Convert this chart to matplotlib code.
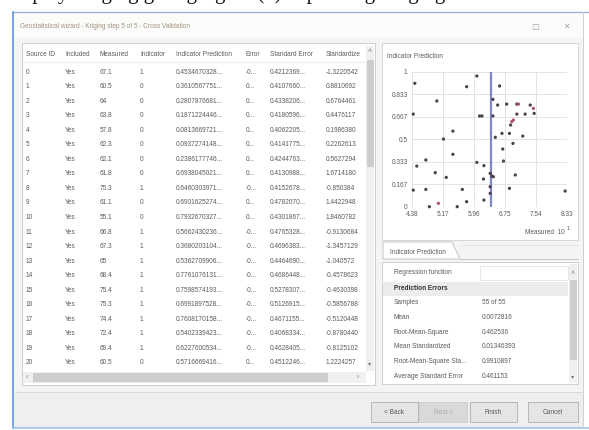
import matplotlib.pyplot as plt
from matplotlib.patches import Rectangle, Polygon

W, H = 589, 430

# TABLE DATA (visible rows of the cross validation grid)

columns = ["Source ID", "Included", "Measured", "Indicator", "Indicator Prediction",
           "Error", "Standard Error", "Standardize"]
source_id = [str(i) for i in range(21)]
included = ["Yes"] * 21
measured = ["67.1", "60.5", "64", "63.8", "57.8", "62.3", "62.1", "61.8", "75.3", "61.1", "55.1",
            "66.8", "67.3", "65", "68.4", "75.4", "75.3", "74.4", "72.4", "69.4", "60.5"]
indicator = ["1", "0", "0", "0", "0", "0", "0", "0", "1", "0", "0",
             "1", "1", "1", "1", "1", "1", "1", "1", "1", "0"]
ind_pred = ["0.4534670328...", "0.3610567751...", "0.2807876681...", "0.1871224446...",
            "0.0813669721...", "0.0937274148...", "0.2386177746...", "0.6938045021...",
            "0.6460303971...", "0.6901625274...", "0.7932670327...", "0.5662430236...",
            "0.3680203104...", "0.5362709906...", "0.7761076131...", "0.7598574193...",
            "0.6991897528...", "0.7608170158...", "0.5402339423...", "0.6227600534...",
            "0.5716669416..."]
error = ["-0...", "0...", "0...", "0...", "0...", "0...", "0...", "0...", "-0...", "0...", "0...",
         "-0...", "-0...", "-0...", "-0...", "-0...", "-0...", "-0...", "-0...", "-0...", "0..."]
std_error = ["0.4212369...", "0.4107660...", "0.4338206...", "0.4180596...", "0.4062205...",
             "0.4141775...", "0.4244763...", "0.4130988...", "0.4152678...", "0.4782070...",
             "0.4301867...", "0.4765328...", "0.4696383...", "0.4464690...", "0.4686448...",
             "0.5278307...", "0.5126915...", "0.4671155...", "0.4068334...", "0.4628405...",
             "0.4512246..."]
standardized = ["-1.3220542", "0.8810692", "0.6764461", "0.4476117", "0.1986380", "0.2262613",
                "0.5627294", "1.6714180", "-0.850384", "1.4422948", "1.8460782", "-0.9130684",
                "-1.3457129", "-1.040572", "-0.4578623", "-0.4630398", "-0.5856788", "-0.5120448",
                "-0.8780440", "-0.8125102", "1.2224257"]

# SCATTER DATA (measured in units of 10^1, indicator prediction)

meas_x = [4.46, 6.04, 5.78, 6.62, 5.02, 4.42, 6.11, 6.17, 6.45, 6.45, 6.57, 6.80, 7.06, 7.10,
          7.40, 7.48, 7.50, 7.27, 7.06, 6.93, 6.97, 6.90, 6.68, 6.87, 7.21, 6.51, 6.96, 6.70,
          6.72, 7.02, 6.87, 8.29, 6.38, 6.38, 6.22, 5.78, 5.54, 5.67, 6.21, 6.38, 6.42, 6.46,
          6.22, 6.04, 5.43, 5.43, 5.19, 4.74, 4.51, 4.98, 5.26, 4.42, 4.74, 5.06, 4.83]
pred_y = [0.914, 0.968, 0.889, 0.894, 0.783, 0.686, 0.672, 0.672, 0.672, 0.795, 0.753, 0.760,
          0.760, 0.760, 0.753, 0.728, 0.691, 0.686, 0.686, 0.630, 0.642, 0.605, 0.543, 0.543,
          0.523, 0.514, 0.469, 0.427, 0.338, 0.235, 0.136, 0.116, 0.148, 0.099, 0.049, 0.037,
          0.0, 0.128, 0.205, 0.247, 0.227, 0.222, 0.304, 0.328, 0.388, 0.560, 0.501, 0.346,
          0.301, 0.252, 0.217, 0.123, 0.128, 0.025, 0.0]
threshold = 6.4
x_ticks = [4.38, 5.17, 5.96, 6.75, 7.54, 8.33]
y_ticks = [0, 1 / 6, 2 / 6, 3 / 6, 4 / 6, 5 / 6, 1]
y_tick_labels = ["0", "0.167", "0.333", "0.5", "0.667", "0.833", "1"]

# SUMMARY STATISTICS

stat_labels = ["Samples", "Mean", "Root-Mean-Square", "Mean Standardized",
               "Root-Mean-Square Sta...", "Average Standard Error"]
stat_values = ["55 of 55", "0.0072816", "0.462536", "0.01346393", "0.9910897", "0.461153"]

buttons = ["< Back", "Next >", "Finish", "Cancel"]

FONT = ["Liberation Sans", "DejaVu Sans"]
FS = 4.7
TXT = "#5a5a5a"
PX = 0.72  # one pixel in points


def rect(x0, y0, x1, y1, fc="none", ec="none", lw=1.0, z=1):
    ax.add_patch(Rectangle((x0, y0), x1 - x0, y1 - y0, facecolor=fc, edgecolor=ec,
                           linewidth=lw * PX, zorder=z))


def label(x, y, s, ha="left", color=TXT, size=FS, weight="normal", z=5):
    ax.text(x, y, s, ha=ha, va="center", color=color, fontsize=size, family=FONT,
            fontweight=weight, zorder=z)


fig = plt.figure(figsize=(W / 100, H / 100), dpi=100)
ax = fig.add_axes([0, 0, 1, 1])
ax.set_xlim(0, W)
ax.set_ylim(H, 0)
ax.axis("off")

# page text cut at the top
ax.text(8, -1.5, "display Kriging giving figure (b) explaining Kriging", ha="left",
        va="baseline", fontsize=15, family="Liberation Serif", color="#111111")

# WINDOW FRAME

rect(13, 12, 583, 428, fc="#f4f4f4", ec="none", z=0)
rect(13, 12, 583, 38, fc="#fbfbfa", z=0.5)
ax.plot([13, 589], [12, 12], color="#8fb0dc", lw=1.2 * PX, zorder=2)
ax.plot([13, 13], [12, 428], color="#5b8fd6", lw=1.6 * PX, zorder=2)
ax.plot([13, 589], [428, 428], color="#9cc0ea", lw=1.6 * PX, zorder=2)
ax.plot([583, 583], [12, 428], color="#d0d0d0", lw=1.0 * PX, zorder=2)
label(20, 27, "Geostatistical wizard - Kriging step 5 of 5 - Cross Validation", color="#a09480")
label(535, 27, "\u25a2", ha="center", color="#a0a0a0", size=6)
label(566, 27, "\u2715", ha="center", color="#a0a0a0", size=5.5)

# TABLE

rect(22, 43, 375, 385, fc="white", ec="#cfcfcf", z=1)
col_x = [26, 65, 100, 140, 176, 246, 270, 326]
for cx, name in zip(col_x, columns):
    label(cx, 54, name)
ax.plot([23, 366], [62, 62], color="#ececec", lw=PX, zorder=2)
rows = [source_id, included, measured, indicator, ind_pred, error, std_error, standardized]
for i in range(len(source_id)):
    y = 72 + i * 14.55
    for cx, col in zip(col_x, rows):
        label(cx, y, col[i])

# vertical scrollbar
rect(366, 46, 374, 371, fc="#f0f0f0", z=2)
rect(366.5, 60, 373.5, 167, fc="#cdcdcd", z=3)
label(370, 52, "\u02c4", ha="center", color="#777777", size=5)
label(370, 364, "\u25be", ha="center", color="#777777", size=4.5)

# horizontal scrollbar
rect(23, 372, 366, 383, fc="#f0f0f0", z=2)
rect(33, 373, 328, 382, fc="#cdcdcd", z=3)
label(27, 377, "\u2039", ha="center", color="#777777", size=5)
label(358, 377, "\u203a", ha="center", color="#777777", size=5)

# CHART PANEL

rect(382, 43, 578, 240, fc="white", ec="#d6d6d6", z=1)
label(387, 56, "Indicator Prediction")

left, right, top, bottom = 411.7, 566.7, 71.7, 206.7
sc = fig.add_axes([left / W, 1 - bottom / H, (right - left) / W, (bottom - top) / H])
sc.set_xlim(x_ticks[0], x_ticks[-1])
sc.set_ylim(0, 1)
sc.set_xticks(x_ticks)
sc.set_xticklabels([f"{t:.2f}" for t in x_ticks])
sc.set_yticks(y_ticks)
sc.set_yticklabels(y_tick_labels)
sc.tick_params(length=0, labelsize=FS, labelcolor=TXT, pad=3)
for t in sc.get_xticklabels() + sc.get_yticklabels():
    t.set_family(FONT)
sc.grid(True, color="#e3e3e3", lw=PX)
for s in sc.spines.values():
    s.set_visible(False)
sc.set_facecolor("white")
sc.axvline(threshold, color="#8086cc", lw=2.2 * PX, zorder=2)
red_pts = [13, 15, 19, 20, 53]
colors = ["#b0506e" if i in red_pts else "#4d3f4d" for i in range(len(meas_x))]
sc.scatter(meas_x, pred_y, s=5.5, c=colors, edgecolors="none", zorder=3, clip_on=False)

label(565, 233, "Measured  10", ha="right")
label(568, 229, "1", ha="center", size=3.8)

# TAB

ax.add_patch(Polygon([(383, 259), (383, 242), (452, 242), (460, 259)], closed=True,
                     facecolor="white", edgecolor="#c8c8c8", lw=PX, zorder=2))
ax.plot([460, 578], [259, 259], color="#c8c8c8", lw=PX, zorder=2)
ax.plot([462, 578], [245, 245], color="#e2e2e2", lw=PX, zorder=2)
label(390, 252, "Indicator Prediction")

# STATISTICS PANEL

rect(382, 262, 578, 384, fc="white", ec="#d0d0d0", z=1)
label(394, 273, "Regression function")
rect(480, 266, 568, 280, fc="white", ec="#e6e6e6", z=2)
rect(383, 282, 568, 296, fc="#ececec", z=2)
label(394, 289, "Prediction Errors", color="#333333", weight="bold")
for i, (lab, val) in enumerate(zip(stat_labels, stat_values)):
    y = 303 + i * 14.6
    label(394, y, lab)
    label(482, y, val)
rect(569, 264, 577, 383, fc="#f0f0f0", z=2)
rect(569.5, 280, 576.5, 360, fc="#cdcdcd", z=3)
label(573, 273, "\u02c4", ha="center", color="#777777", size=5)
label(573, 377, "\u25be", ha="center", color="#777777", size=4.5)

# BUTTON BAR

ax.plot([16, 583], [392, 392], color="#dadada", lw=PX, zorder=2)
rect(14, 393, 583, 427, fc="#efefef", z=1)
btn_x = [(371, 418), (419, 467), (470, 517), (528, 578)]
for (x0, x1), name in zip(btn_x, buttons):
    disabled = name.startswith("Next")
    rect(x0, 402, x1, 422, fc="#d9d9d9" if disabled else "#e5e5e5",
         ec="#d0d0d0" if disabled else "#b8b8b8", z=2)
    label((x0 + x1) / 2, 412, name, ha="center", color="#aaaaaa" if disabled else TXT)

fig.savefig("out.png", dpi=100)
